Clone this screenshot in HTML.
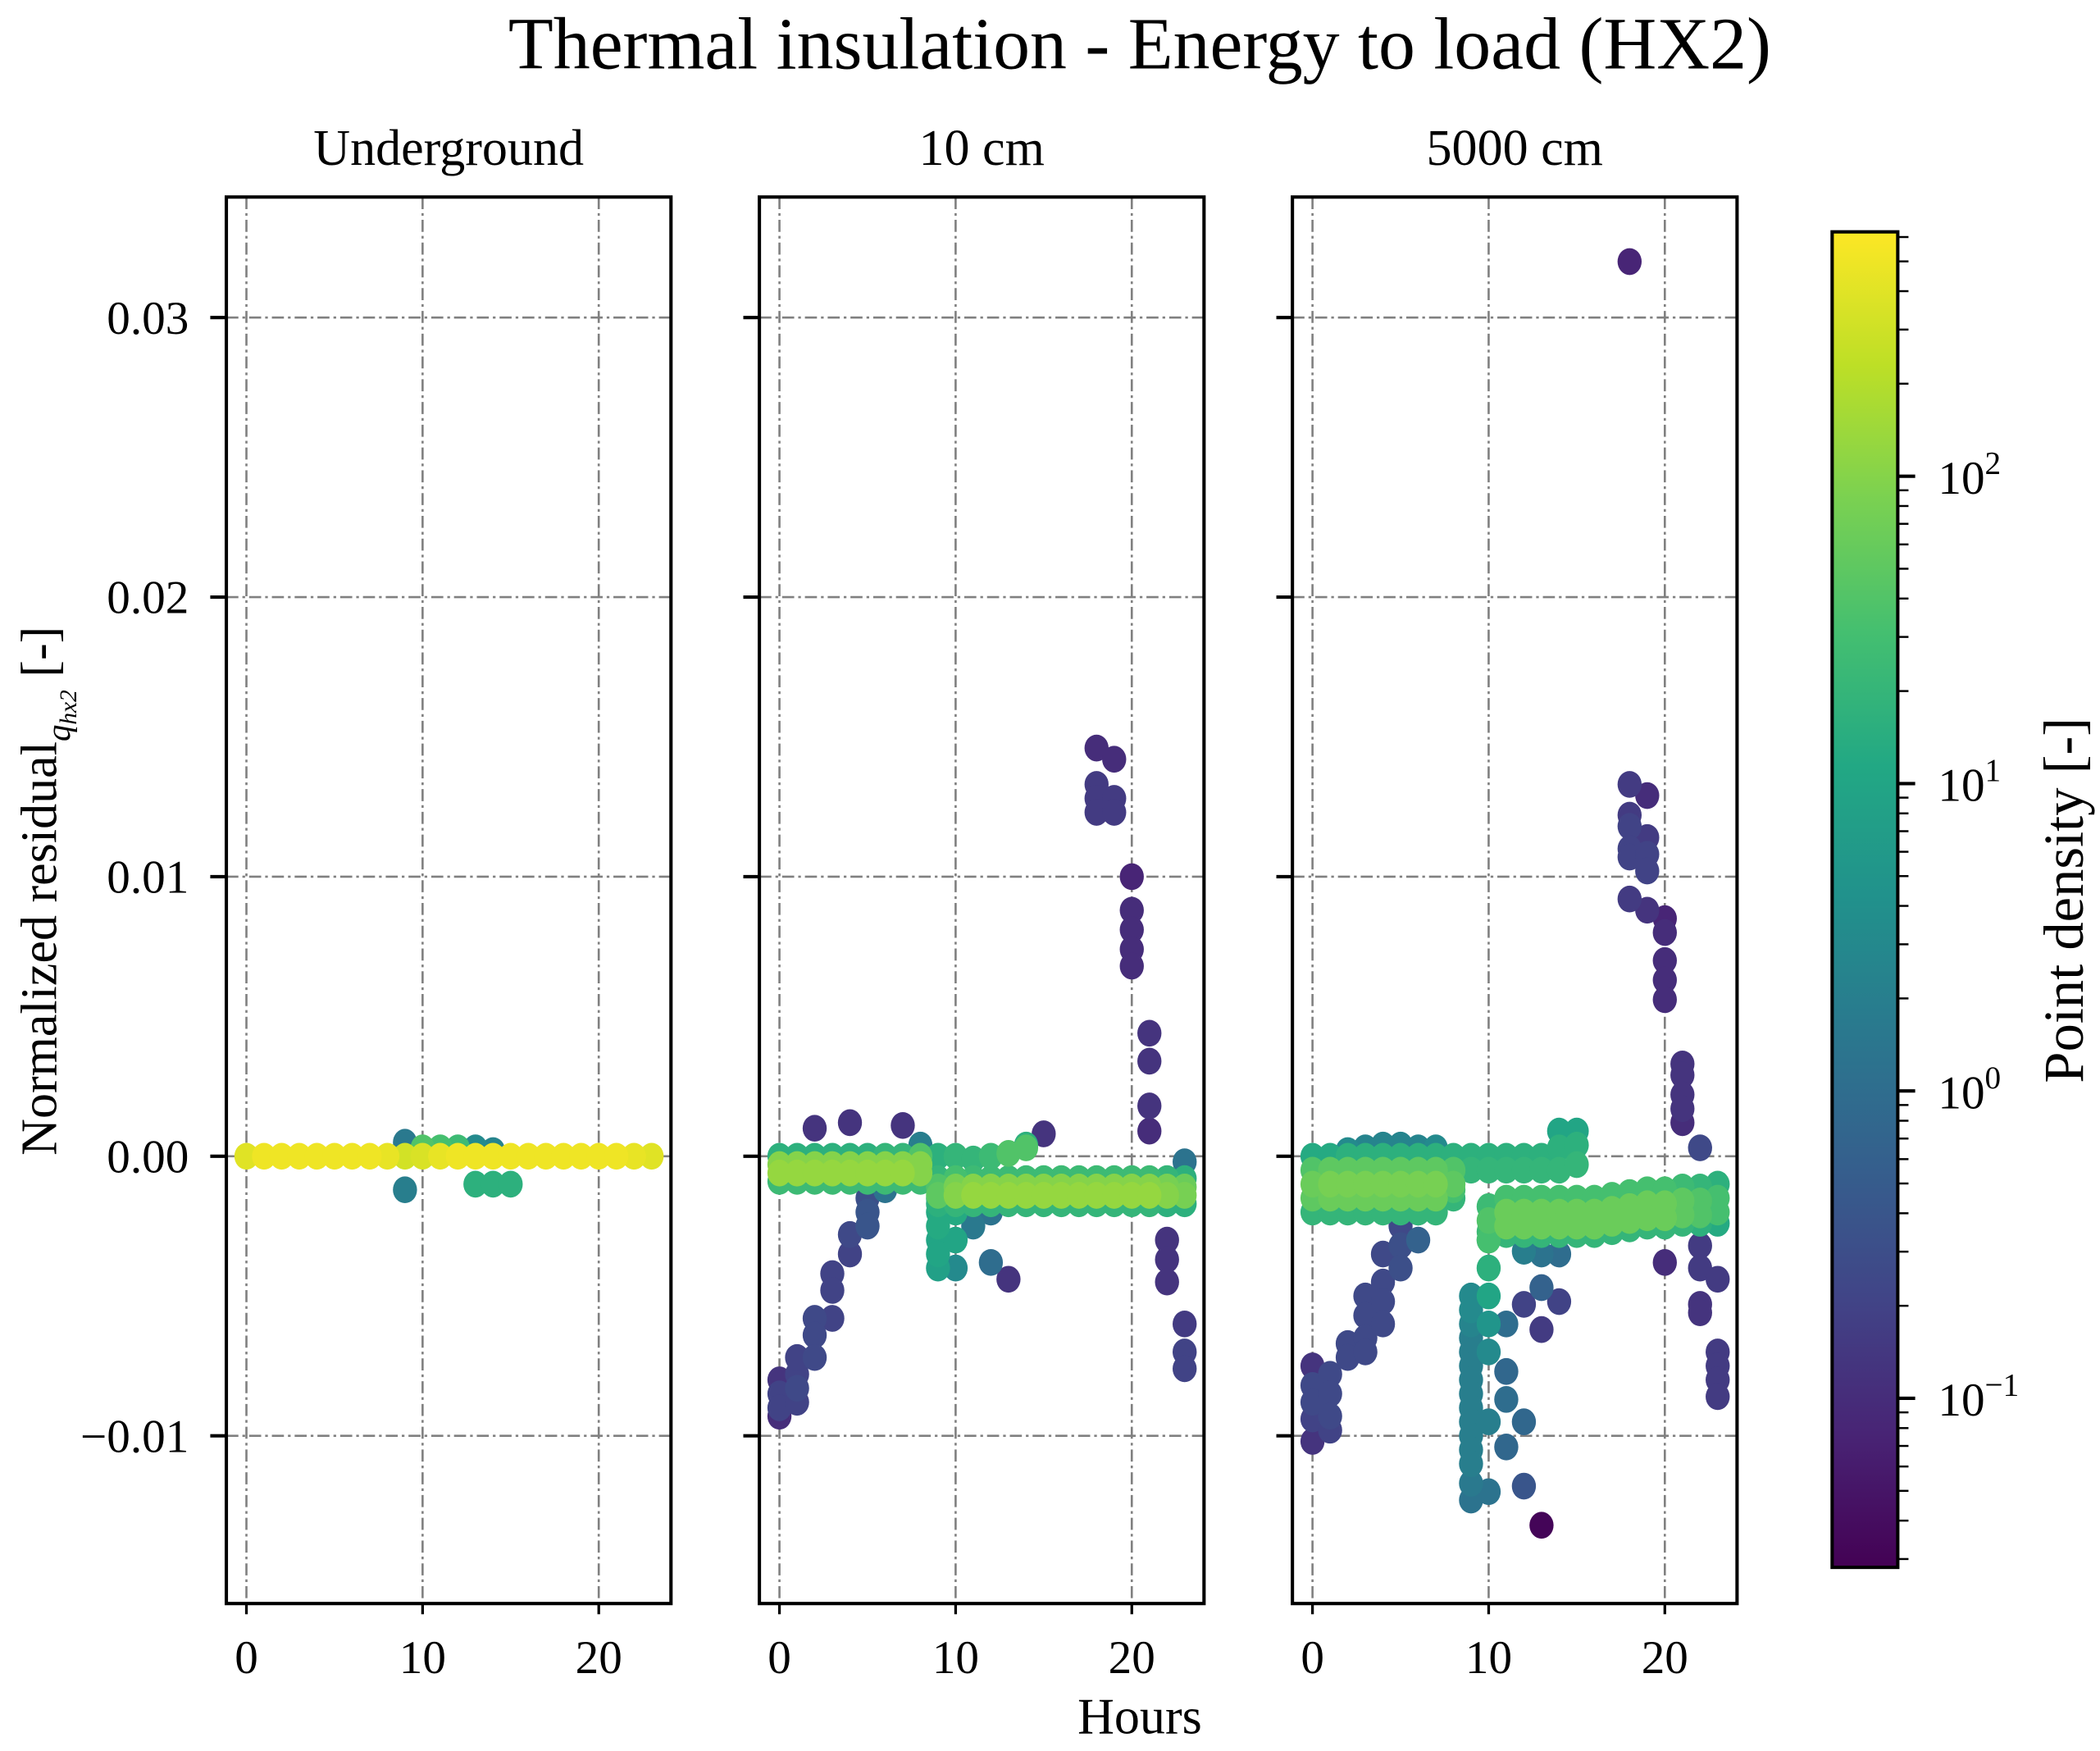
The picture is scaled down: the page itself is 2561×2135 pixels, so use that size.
<!DOCTYPE html>
<html><head><meta charset="utf-8"><style>
html,body{margin:0;padding:0;background:#fff;}
svg{display:block;font-family:"Liberation Serif",serif;}
</style></head><body>
<svg id="fig" width="2561" height="2135" viewBox="0 0 1568 1307" xmlns="http://www.w3.org/2000/svg">
<defs>
<linearGradient id="vir" x1="0" y1="1" x2="0" y2="0">
<stop offset="0" stop-color="#440154"/><stop offset="0.1" stop-color="#482475"/><stop offset="0.2" stop-color="#414487"/><stop offset="0.3" stop-color="#355f8d"/><stop offset="0.4" stop-color="#2a788e"/><stop offset="0.5" stop-color="#21918c"/><stop offset="0.6" stop-color="#22a884"/><stop offset="0.7" stop-color="#44bf70"/><stop offset="0.8" stop-color="#7ad151"/><stop offset="0.9" stop-color="#bddf26"/><stop offset="1" stop-color="#fde725"/>
</linearGradient>
</defs>
<text x="851" y="51" font-size="55" text-anchor="middle">Thermal insulation - Energy to load (HX2)</text>
<text transform="translate(42,665) rotate(-90)" font-size="38" text-anchor="middle">Normalized residual<tspan font-style="italic" font-size="25" dy="10">q</tspan><tspan font-style="italic" font-size="18" dy="5">hx2</tspan><tspan dy="-15"> [-]</tspan></text>
<text x="851" y="1294" font-size="38" text-anchor="middle">Hours</text>
<g id="panels"></g>
<g id="cbar"></g>
</svg>
<script>
const yTicks=[0.03,0.02,0.01,0.00,-0.01];
const yTickLabels=["0.03","0.02","0.01","0.00","\u22120.01"];
const xTicks=[0,10,20];
const panelTitles=["Underground","10 cm","5000 cm"];
const cbarDecades=[-1,0,1,2];

const p1Hours=[0,1,2,3,4,5,6,7,8,9,10,11,12,13,14,15,16,17,18,19,20,21,22,23,9,9,10,11,12,13,14,13,14,15];
const p1Values=[0,0,0,0,0,0,0,0,0,0,0,0,0,0,0,0,0,0,0,0,0,0,0,0,0.0005,-0.0012,0.0003,0.0003,0.0003,0.0003,0.0002,-0.001,-0.001,-0.001];
const p1Density=[2.6,2.7,2.7,2.7,2.7,2.7,2.7,2.7,2.65,2.5,2.55,2.65,2.7,2.7,2.7,2.7,2.7,2.7,2.7,2.7,2.7,2.7,2.65,2.6,0.2,0.3,1.6,1.5,1.4,0.5,0.4,1.2,1.2,1.2];

const p2Hours=[0,0,0,0,1,1,1,1,2,2,2,2,3,3,3,3,4,4,4,4,5,5,5,5,6,6,6,6,7,7,7,7,8,8,8,8,
9,9,9,9,10,10,10,10,11,11,11,11,12,12,12,12,13,13,13,13,14,14,14,14,15,15,15,15,16,16,16,16,17,17,17,17,18,18,18,18,19,19,19,19,20,20,20,20,21,21,21,21,22,22,22,22,23,23,23,23,
9,10,11,12,13,14,
0,0,0,0,1,1,1,1,2,2,2,2,3,3,3,4,4,4,5,5,5,6,6,7,8,
9,9,9,9,9,9,10,10,10,10,11,11,12,12,13,13,14,14,15,
18,18,18,18,19,19,19,20,20,20,20,20,21,21,21,21,22,22,22,22,23,23,23,23];
const p2Values=[0,-0.0003,-0.0006,-0.0009,0,-0.0003,-0.0006,-0.0009,0,-0.0003,-0.0006,-0.0009,0,-0.0003,-0.0006,-0.0009,0,-0.0003,-0.0006,-0.0009,0,-0.0003,-0.0006,-0.0009,0,-0.0003,-0.0006,-0.0009,0,-0.0003,-0.0006,-0.0009,0,-0.0003,-0.0006,-0.0009,
-0.0008,-0.0011,-0.0014,-0.0017,-0.0008,-0.0011,-0.0014,-0.0017,-0.0008,-0.0011,-0.0014,-0.0017,-0.0008,-0.0011,-0.0014,-0.0017,-0.0008,-0.0011,-0.0014,-0.0017,-0.0008,-0.0011,-0.0014,-0.0017,-0.0008,-0.0011,-0.0014,-0.0017,-0.0008,-0.0011,-0.0014,-0.0017,-0.0008,-0.0011,-0.0014,-0.0017,-0.0008,-0.0011,-0.0014,-0.0017,-0.0008,-0.0011,-0.0014,-0.0017,-0.0008,-0.0011,-0.0014,-0.0017,-0.0008,-0.0011,-0.0014,-0.0017,-0.0008,-0.0011,-0.0014,-0.0017,-0.0008,-0.0011,-0.0014,-0.0017,
0,0,-0.0001,0,0.0001,0.0003,
-0.008,-0.0085,-0.009,-0.0093,-0.0078,-0.0083,-0.0088,-0.0072,-0.0058,-0.0064,-0.0072,0.001,-0.0042,-0.0048,-0.0058,-0.0028,-0.0035,0.0012,-0.0015,-0.002,-0.0025,-0.0008,-0.0012,0.0011,0.0004,
-0.0015,-0.002,-0.0025,-0.003,-0.0035,-0.004,-0.0012,-0.002,-0.003,-0.004,-0.0015,-0.0025,-0.002,-0.0038,-0.0044,-0.001,0.0004,-0.0015,0.0008,
0.0146,0.0133,0.0128,0.0123,0.0142,0.0128,0.0123,0.01,0.0088,0.0081,0.0074,0.0068,0.0044,0.0034,0.0018,0.0009,-0.0015,-0.003,-0.0037,-0.0045,-0.006,-0.007,-0.0076,-0.0002];
const p2Density=[1.2,2.0,2.1,1.4,1.2,2.0,2.1,1.4,1.2,2.0,2.1,1.4,1.2,2.0,2.1,1.4,1.2,2.0,2.1,1.4,1.2,2.0,2.1,1.4,1.3,2.0,2.1,1.4,1.3,2.0,2.1,1.4,1.6,2.0,2.0,1.4,
1.3,1.6,1.7,1.2,1.5,1.9,2.0,1.3,1.4,2.0,2.1,1.3,1.4,2.0,2.1,1.3,1.4,2.0,2.1,1.3,1.4,2.0,2.1,1.3,1.4,2.0,2.1,1.3,1.4,2.0,2.1,1.3,1.4,2.0,2.1,1.3,1.4,2.0,2.1,1.3,1.4,2.0,2.1,1.3,1.4,2.0,2.1,1.3,1.4,2.0,2.1,1.3,1.3,1.9,2.0,1.2,1.2,1.8,1.9,1.2,
1.2,1.3,1.3,1.4,1.6,1.6,
-0.9,-0.7,-0.7,-1.0,-0.7,-0.6,-0.7,-0.7,-0.6,-0.6,-0.6,-0.9,-0.7,-0.7,-0.7,-0.6,-0.7,-0.9,-0.5,-0.4,-0.4,-0.2,0.1,-0.9,0.3,
1.1,1.1,1.1,1.0,1.0,0.9,1.0,1.1,1.0,0.5,0.6,0.2,0.1,0.0,-0.9,0.1,1.2,0.3,-0.9,
-1.0,-0.8,-0.8,-0.8,-1.0,-0.8,-0.8,-1.1,-1.0,-1.0,-1.0,-1.0,-0.9,-0.9,-0.9,-1.0,-0.9,-0.9,-0.9,-0.9,-0.8,-0.7,-0.7,0.1];

const p3Hours=[0,0,0,0,0,1,1,1,1,1,2,2,2,2,2,2,3,3,3,3,3,3,4,4,4,4,4,4,5,5,5,5,5,5,6,6,6,6,6,6,7,7,7,7,7,7,8,8,8,8,8,
9,9,10,10,11,11,12,12,13,13,14,14,14,15,15,15,
10,10,10,10,11,11,11,11,12,12,12,12,13,13,13,13,14,14,14,14,15,15,15,15,16,16,16,16,17,17,17,17,18,18,18,18,19,19,19,19,20,20,20,20,21,21,21,21,22,22,22,22,23,23,23,23,
9,9,9,9,9,9,9,9,9,9,9,9,9,9,9,10,10,10,10,10,10,10,
0,0,0,0,0,1,1,1,1,2,2,3,3,3,3,4,4,4,4,5,5,5,6,6,
11,11,11,11,11,12,12,12,12,13,13,13,13,14,14,14,
18,18,18,18,18,18,18,19,19,19,19,19,20,20,20,20,20,20,21,21,21,21,21,22,22,22,22,22,23,23,23,23,23];
const p3Values=[0,-0.0005,-0.001,-0.0015,-0.002,0,-0.0005,-0.001,-0.0015,-0.002,0.0002,0,-0.0005,-0.001,-0.0015,-0.002,0.0003,0,-0.0005,-0.001,-0.0015,-0.002,0.0004,0,-0.0005,-0.001,-0.0015,-0.002,0.0004,0,-0.0005,-0.001,-0.0015,-0.002,0.0003,0,-0.0005,-0.001,-0.0015,-0.002,0.0003,0,-0.0005,-0.001,-0.0015,-0.002,0,-0.0005,-0.001,-0.0012,-0.0015,
0,-0.0005,0,-0.0005,0,-0.0005,0,-0.0005,0,-0.0005,0.0009,0.0003,-0.0005,0.0009,0.0004,-0.0003,
-0.0018,-0.0023,-0.0027,-0.003,-0.0015,-0.002,-0.0025,-0.0028,-0.0015,-0.002,-0.0025,-0.0028,-0.0015,-0.002,-0.0025,-0.0028,-0.0015,-0.002,-0.0025,-0.0028,-0.0015,-0.002,-0.0025,-0.0028,-0.0015,-0.002,-0.0025,-0.0028,-0.0014,-0.0019,-0.0024,-0.0027,-0.0013,-0.0018,-0.0023,-0.0026,-0.0012,-0.0017,-0.0022,-0.0025,-0.0012,-0.0017,-0.0022,-0.0025,-0.0011,-0.0016,-0.0021,-0.0024,-0.0011,-0.0016,-0.0021,-0.0024,-0.001,-0.0015,-0.002,-0.0024,
-0.005,-0.0055,-0.006,-0.0065,-0.007,-0.0075,-0.008,-0.0085,-0.009,-0.0095,-0.01,-0.0105,-0.011,-0.0117,-0.0123,-0.003,-0.004,-0.005,-0.006,-0.007,-0.0095,-0.012,
-0.0075,-0.0082,-0.0088,-0.0094,-0.0102,-0.0078,-0.0085,-0.0093,-0.0098,-0.0067,-0.0072,-0.005,-0.0057,-0.0065,-0.007,-0.0035,-0.0045,-0.0052,-0.006,-0.0025,-0.0032,-0.004,-0.002,-0.003,
-0.0025,-0.006,-0.0077,-0.0087,-0.0104,-0.0034,-0.0053,-0.0095,-0.0118,-0.0035,-0.0047,-0.0062,-0.0132,-0.0018,-0.0035,-0.0052,
0.032,0.0133,0.0122,0.0118,0.011,0.0107,0.0092,0.0129,0.0114,0.0108,0.0102,0.0088,0.0085,0.008,0.007,0.0063,0.0056,-0.0038,0.0033,0.0029,0.0022,0.0017,0.0012,0.0003,-0.0032,-0.004,-0.0053,-0.0056,-0.0044,-0.007,-0.0075,-0.008,-0.0086];
const p3Density=[1.1,1.6,1.8,1.7,1.3,1.1,1.7,1.9,1.8,1.3,0.5,1.2,1.7,1.9,1.8,1.3,0.4,1.2,1.7,1.9,1.8,1.3,0.4,1.2,1.7,1.9,1.8,1.3,0.4,1.2,1.7,1.9,1.8,1.3,0.4,1.2,1.7,1.9,1.8,1.3,0.5,1.2,1.7,1.9,1.8,1.3,1.2,1.6,1.7,1.5,1.3,
1.2,1.3,1.2,1.3,1.2,1.3,1.2,1.3,1.2,1.3,1.0,1.2,1.3,1.0,1.2,1.3,
1.4,1.6,1.4,1.2,1.5,1.8,1.8,1.3,1.5,1.8,1.8,1.3,1.5,1.8,1.8,1.3,1.5,1.8,1.8,1.3,1.5,1.8,1.8,1.3,1.5,1.8,1.8,1.3,1.5,1.8,1.8,1.3,1.5,1.8,1.8,1.3,1.5,1.8,1.8,1.3,1.5,1.8,1.8,1.3,1.4,1.7,1.7,1.3,1.3,1.6,1.6,1.2,1.2,1.5,1.5,1.1,
0.5,0.5,0.4,0.3,0.3,0.3,0.3,0.3,0.3,0.3,0.3,0.3,0.3,0.2,0.1,1.5,1.2,1.0,0.7,0.5,0.3,0.1,
-0.9,-0.6,-0.6,-0.7,-0.9,-0.6,-0.6,-0.6,-0.7,-0.6,-0.6,-0.6,-0.6,-0.6,-0.6,-0.6,-0.6,-0.6,-0.6,-0.6,-0.5,-0.5,0.2,-0.2,
0.5,0,-0.1,0,-0.1,0.3,-0.7,-0.1,-0.4,0.1,-0.2,-0.8,-1.5,0.2,0,-0.7,
-1.1,-0.8,-0.8,-0.7,-0.7,-0.7,-0.8,-1.0,-0.8,-0.7,-0.7,-0.9,-1.1,-1.0,-1.0,-1.0,-1.0,-1.0,-0.9,-0.9,-0.9,-0.9,-1.0,-0.6,-0.8,-0.8,-0.9,-0.9,-0.8,-0.8,-0.8,-0.8,-0.8];

const panelHours=[p1Hours,p2Hours,p3Hours];
const panelValues=[p1Values,p2Values,p3Values];
const panelDensity=[p1Density,p2Density,p3Density];

const NS="http://www.w3.org/2000/svg";
const panelLefts=[169,567,965];
const PW=332, PT=147, PB=1197;
const XMIN=-1.14, XMAX=24.1;
const YMIN=-0.0160, YMAX=0.03431;
const DMIN=-1.55, DMAX=2.795;
function xScale(i,h){return panelLefts[i]+(h-XMIN)/(XMAX-XMIN)*PW;}
function yScale(v){return PB-(v-YMIN)/(YMAX-YMIN)*(PB-PT);}
function dScale(d){return 1170-(d-DMIN)/(DMAX-DMIN)*(1170-173);}
const vir=[[68,1,84],[72,36,117],[65,68,135],[53,95,141],[42,120,142],[33,145,140],[34,168,132],[68,191,112],[122,209,81],[189,223,38],[253,231,37]];
function viridis(d){let t=(d-DMIN)/(DMAX-DMIN);t=Math.max(0,Math.min(1,t))*10;const i=Math.min(9,Math.floor(t));const f=t-i;const a=vir[i],b=vir[i+1];return "rgb("+a.map((c,k)=>Math.round(c+(b[k]-c)*f)).join(",")+")";}
function mk(tag,attrs,parent){const e=document.createElementNS(NS,tag);for(const k in attrs)e.setAttribute(k,attrs[k]);parent.appendChild(e);return e;}

const pg=document.getElementById("panels");
for(let i=0;i<3;i++){
  const L=panelLefts[i];
  const g=mk("g",{},pg);
  
  
  const t=mk("text",{x:L+PW/2,y:123,"font-size":38,"text-anchor":"middle"},g);
  t.textContent=panelTitles[i];
  
  
  xTicks.forEach(h=>{const x=xScale(i,h);
    const gl=mk("line",{x1:x,x2:x,y1:PT,y2:PB,stroke:"#808080","stroke-width":1.6,"stroke-dasharray":"9,3,2,3"},g);
    
    
    mk("line",{x1:x,x2:x,y1:PB,y2:PB+8,stroke:"#000","stroke-width":2},g);
    const tl=mk("text",{x:x,y:PB+52,"font-size":35,"text-anchor":"middle"},g);
    tl.textContent=String(h);
    
    
  });
  yTicks.forEach((v,k)=>{const y=yScale(v);
    const gl=mk("line",{x1:L,x2:L+PW,y1:y,y2:y,stroke:"#808080","stroke-width":1.6,"stroke-dasharray":"9,3,2,3"},g);
    
    
    mk("line",{x1:L-12,x2:L,y1:y,y2:y,stroke:"#000","stroke-width":2.5},g);
    if(i===0){const tl=mk("text",{x:L-28,y:y+12,"font-size":35,"text-anchor":"end"},g);
      tl.textContent=yTickLabels[k];
      
      }
  });
  const H=panelHours[i],V=panelValues[i],D=panelDensity[i];
  const idx=H.map((_,j)=>j).sort((a,b)=>D[a]-D[b]);
  const pts=mk("g",{},g);
  
  
  idx.forEach(j=>{
    const c=mk("ellipse",{cx:xScale(i,H[j]),cy:yScale(V[j]),rx:9,ry:10,fill:viridis(D[j])},pts);
    
    
  });
  const fr=mk("rect",{x:L,y:PT,width:PW,height:PB-PT,fill:"none",stroke:"#000","stroke-width":2.5},g);
  
  
}
const cb=document.getElementById("cbar");


mk("rect",{x:1368,y:173,width:49,height:997,fill:"url(#vir)",stroke:"#000","stroke-width":2.5},cb);
cbarDecades.forEach(d=>{
  const y=dScale(d);
  mk("line",{x1:1417,x2:1430,y1:y,y2:y,stroke:"#000","stroke-width":2.5},cb);
  const t=mk("text",{x:1447,y:y+13,"font-size":35},cb);
  t.textContent="10";
  const s=mk("tspan",{dy:-15,"font-size":24},t);
  s.textContent=d<0?"\u2212"+Math.abs(d):String(d);
  
  
});
for(let d=-2;d<=2;d++){for(let m=2;m<=9;m++){const lv=d+Math.log10(m);if(lv<DMIN||lv>DMAX)continue;const y=dScale(lv);mk("line",{x1:1417,x2:1425,y1:y,y2:y,stroke:"#000","stroke-width":1.5},cb);}}
const cl=mk("text",{transform:"translate(1555,672) rotate(-90)","font-size":42,"text-anchor":"middle"},cb);
cl.textContent="Point density [-]";


</script>
</body></html>
